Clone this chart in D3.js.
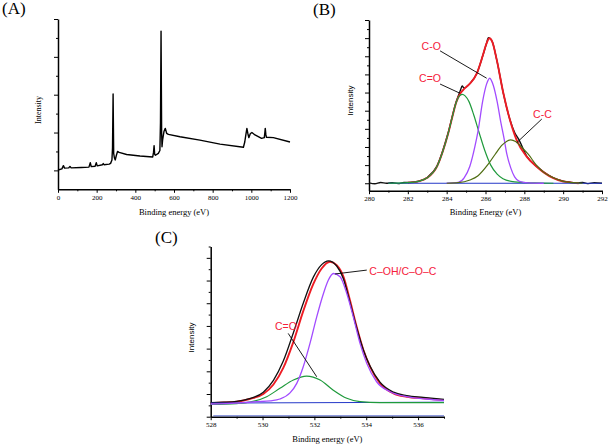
<!DOCTYPE html>
<html>
<head>
<meta charset="utf-8">
<script src="https://cdn.jsdelivr.net/npm/d3@7"></script>
<style>
  body { margin: 0; background: #fff; }
  svg { display: block; }
  .tick text { font-family: "Liberation Serif", serif; font-size: 7px; }
</style>
</head>
<body>
<svg id="chart" width="612" height="447"></svg>
<script>
// --- data: survey spectrum (A) ---
const surveyA = [
  [0, 1.02], [20, 1.08], [28, 1.25], [34, 1.12], [55, 1.13], [62, 1.21], [68, 1.13],
  [120, 1.15], [160, 1.17], [167, 1.41], [172, 1.2], [192, 1.22], [198, 1.41], [203, 1.24],
  [230, 1.3], [234, 1.36], [238, 1.3], [265, 1.33], [272, 1.37], [279, 1.55], [282, 2.2],
  [285, 5.04], [288, 1.9], [292, 1.65], [296, 1.55], [302, 1.8], [308, 2.0], [316, 1.95],
  [355, 1.84], [424, 1.76], [490, 1.71], [494, 1.95], [497, 2.31], [500, 1.85], [504, 1.8],
  [519, 1.9], [527, 2.05], [530, 3.5], [533, 8.36], [536, 3.0], [538, 2.25], [541, 2.6],
  [548, 3.05], [555, 3.22], [562, 2.96], [571, 2.9], [631, 2.78], [734, 2.6], [838, 2.39],
  [959, 2.22], [966, 2.5], [972, 2.9], [977, 3.22], [982, 2.95], [987, 2.73], [995, 2.95],
  [1003, 3.0], [1019, 2.87], [1053, 2.69], [1067, 2.73], [1070, 3.0], [1072, 3.22],
  [1075, 2.9], [1078, 2.75], [1114, 2.73], [1200, 2.5]
];

// --- data: C1s (B) ---
const rawB = [
  [280, 0.02], [280.3, -0.03], [280.6, 0.04], [280.9, 0.0], [281.2, 0.03], [281.5, -0.02],
  [281.8, 0.04], [282.1, 0.05], [282.5, 0.1], [283, 0.32], [283.5, 0.95], [284.08, 2.8],
  [284.49, 4.5], [284.7, 5.1], [284.8, 5.36], [284.9, 5.25], [285.2, 5.5], [285.55, 6.05],
  [285.85, 7.0], [286.05, 7.7], [286.15, 8.03], [286.35, 7.8], [286.58, 6.8], [286.92, 4.96],
  [287.26, 3.5], [287.5, 2.8], [287.7, 2.45], [288.12, 1.5], [288.64, 0.93], [289.0, 0.62],
  [289.5, 0.3], [290.0, 0.12], [290.35, 0.06], [290.7, 0.02], [291, 0.04], [291.3, -0.02],
  [291.6, 0.03], [292, 0.0]
];
const fitB = [
  [282.0, 0.03], [282.6, 0.12], [283.0, 0.3], [283.5, 0.92], [283.8, 1.75], [284.08, 2.75],
  [284.3, 3.7], [284.49, 4.45], [284.7, 4.95], [284.9, 5.2], [285.2, 5.5], [285.55, 6.05],
  [285.85, 7.0], [286.05, 7.7], [286.2, 7.99], [286.35, 7.8], [286.58, 6.8], [286.92, 4.96],
  [287.26, 3.49], [287.6, 2.39], [288.12, 1.47], [288.64, 0.91], [289.0, 0.6], [289.5, 0.28],
  [290.0, 0.1], [290.35, 0.05], [290.8, 0.0]
];
const coB = [  // C=O
  [281.0, 0.0], [282.0, 0.03], [282.6, 0.12], [283.0, 0.3], [283.5, 0.92], [283.8, 1.75],
  [284.08, 2.75], [284.3, 3.7], [284.49, 4.45], [284.65, 4.8], [284.8, 4.9], [284.95, 4.82],
  [285.15, 4.5], [285.4, 3.75], [285.67, 2.8], [285.95, 1.85], [286.27, 1.0], [286.6, 0.5],
  [286.9, 0.25], [287.5, 0.08], [288.5, 0.02], [289.5, 0.0]
];
const c_oB = [ // C-O
  [284.0, 0.0], [284.6, 0.05], [284.9, 0.3], [285.19, 0.92], [285.45, 2.0], [285.62, 2.9],
  [285.85, 4.5], [286.05, 5.45], [286.22, 5.79], [286.4, 5.4], [286.6, 4.5], [286.8, 3.3],
  [286.95, 2.5], [287.1, 1.6], [287.3, 0.85], [287.5, 0.35], [287.75, 0.1], [288.2, 0.02],
  [289, 0.0]
];
const ccB = [  // C-C
  [284.0, 0.0], [284.6, 0.03], [285.2, 0.18], [285.6, 0.4], [286.14, 1.05], [286.5, 1.6],
  [286.85, 2.1], [287.1, 2.32], [287.3, 2.39], [287.55, 2.3], [287.85, 2.0], [288.2, 1.6],
  [288.62, 1.0], [289.0, 0.6], [289.5, 0.3], [290.0, 0.1], [290.5, 0.03], [291, 0.0]
];
const baseB = [[281, 0], [292, 0]];

// --- data: O1s (C) ---
const rawC = [
  [528, 0.62], [528.5, 0.64], [529, 0.68], [529.5, 0.8], [530.03, 1.08], [530.42, 1.6],
  [530.8, 2.45], [531.19, 3.7], [531.57, 5.0], [531.96, 6.15], [532.28, 6.7], [532.54, 6.87],
  [532.86, 6.64], [533.12, 6.08], [533.37, 5.05], [533.63, 3.92], [533.89, 2.94], [534.15, 2.22],
  [534.53, 1.52], [535.05, 1.08], [535.56, 0.93], [536.2, 0.85], [537, 0.76]
];
const fitC = [
  [528, 0.6], [529, 0.66], [529.5, 0.78], [530.03, 1.0], [530.42, 1.42], [530.8, 2.15],
  [531.19, 3.3], [531.57, 4.65], [531.96, 5.85], [532.28, 6.53], [532.6, 6.83], [532.86, 6.68],
  [533.12, 6.17], [533.37, 5.14], [533.63, 3.96], [533.89, 2.94], [534.15, 2.2], [534.53, 1.47],
  [535.05, 1.03], [535.56, 0.88], [536.2, 0.81], [537, 0.73]
];
const cohC = [ // C-OH/C-O-C
  [528, 0.56], [529, 0.6], [529.77, 0.66], [530.3, 0.7], [530.67, 0.78], [531.06, 1.05],
  [531.32, 1.47], [531.57, 2.2], [531.83, 3.23], [532.09, 4.4], [532.35, 5.43], [532.54, 6.02],
  [532.73, 6.31], [532.99, 6.17], [533.25, 5.43], [533.5, 4.4], [533.76, 3.23], [534.02, 2.35],
  [534.4, 1.54], [534.92, 1.1], [535.56, 0.88], [536.3, 0.78], [537, 0.72]
];
const coC = [  // C=O
  [528, 0.54], [529, 0.58], [529.5, 0.64], [530.16, 0.88], [530.67, 1.25], [531.19, 1.62],
  [531.7, 1.79], [532.22, 1.62], [532.73, 1.17], [533.25, 0.81], [533.76, 0.66], [534.53, 0.62],
  [537, 0.62]
];
const baseC = [[528, 0.6], [537, 0.64]];

// tick labels
const ticksA = [0, 200, 400, 600, 800, 1000, 1200];
const ticksB = [280, 282, 284, 286, 288, 290, 292];
const ticksC = [528, 530, 532, 534, 536];

// annotations [label, textX, textY, fromX, fromY, toX, toY] in data units
const notesB = [
  ["C-O", 282.71, 7.34, 283.66, 7.30, 286.06, 5.79],
  ["C=O", 282.58, 5.58, 283.66, 5.47, 284.69, 4.96],
  ["C-C", 288.45, 3.6, 288.9, 3.54, 287.61, 2.24]
];
const notesC = [
  ["C\u2013OH/C\u2013O\u2013C", 534.12, 6.24, 534.02, 6.46, 532.8, 6.29],
  ["C=O", 530.48, 3.82, 530.99, 3.67, 532.09, 1.76]
];

const svg = d3.select("#chart");
const RED = "#ee1c24", NOTE = "#f5213b";

function panel(p) {
  const x = d3.scaleLinear().domain(p.xDomain).range(p.xRange);
  const y = d3.scaleLinear().domain(p.yDomain).range(p.yRange);
  const g = svg.append("g");

  // x axis: minor then major
  g.append("g").attr("transform", `translate(0,${p.yRange[0]})`)
    .call(d3.axisBottom(x).tickValues(p.xMinor).tickSize(2).tickFormat(""))
    .call(a => a.select(".domain").remove());
  g.append("g").attr("transform", `translate(0,${p.yRange[0]})`)
    .call(d3.axisBottom(x).tickValues(p.xTicks).tickSize(3.5).tickSizeOuter(0).tickPadding(2)
      .tickFormat(d3.format("d")))
    .call(a => a.select(".domain").attr("stroke-width", 1.5));

  // y axis: no labels
  g.append("g").attr("transform", `translate(${p.xRange[0]},0)`)
    .call(d3.axisLeft(y).tickValues(p.yMinor).tickSize(2).tickFormat(""))
    .call(a => a.select(".domain").remove());
  g.append("g").attr("transform", `translate(${p.xRange[0]},0)`)
    .call(d3.axisLeft(y).tickValues(p.yMajor).tickSize(4).tickSizeOuter(0).tickFormat(""))
    .call(a => a.select(".domain").attr("stroke-width", 1.5));

  g.append("text")
    .attr("x", d3.mean(p.xRange)).attr("y", p.xTitleY)
    .attr("text-anchor", "middle")
    .style("font-family", "Liberation Serif, serif").style("font-size", "8.5px")
    .text(p.xTitle);

  g.append("text")
    .attr("transform", `translate(${p.yTitleX},${p.yTitleY}) rotate(-90)`)
    .attr("text-anchor", "middle")
    .style("font-family", p.yFont).style("font-size", "8px")
    .text("Intensity");

  g.append("text")
    .attr("x", p.tagX).attr("y", p.tagY)
    .style("font-family", "Liberation Serif, serif").style("font-size", "17px")
    .text(p.tag);

  const line = d3.line().x(d => x(d[0])).y(d => y(d[1])).curve(p.curve || d3.curveLinear);
  p.series.forEach(s => {
    g.append("path").datum(s.data)
      .attr("fill", "none").attr("stroke", s.color).attr("stroke-width", s.width)
      .attr("stroke-linejoin", "round")
      .attr("d", line);
  });

  (p.notes || []).forEach(n => {
    g.append("line")
      .attr("x1", x(n[3])).attr("y1", y(n[4])).attr("x2", x(n[5])).attr("y2", y(n[6]))
      .attr("stroke", "#000").attr("stroke-width", 0.9);
    g.append("text")
      .attr("x", x(n[1])).attr("y", y(n[2]))
      .style("font-family", "Liberation Sans, Arial, sans-serif").style("font-size", "10.5px")
      .attr("fill", NOTE)
      .text(n[0]);
  });
  return { x, y, g };
}

// (A) survey
panel({
  xDomain: [0, 1200], xRange: [58, 290],
  yDomain: [0, 9], yRange: [189.3, 19],
  xTicks: ticksA, xMinor: d3.range(100, 1200, 200),
  yMajor: [1, 3, 5, 7, 9], yMinor: [2, 4, 6, 8],
  xTitle: "Binding energy (eV)", xTitleY: 215,
  yTitleX: 40.5, yTitleY: 110, yFont: "Liberation Serif, serif",
  tag: "(A)", tagX: 2, tagY: 14,
  series: [{ data: surveyA, color: "#000", width: 1.4 }]
});

// (B) C1s
panel({
  xDomain: [280, 292], xRange: [369, 602],
  yDomain: [-0.41, 9], yRange: [190.7, 20],
  xTicks: ticksB, xMinor: d3.range(281, 292, 2),
  yMajor: d3.range(0, 9.01, 1), yMinor: d3.range(0.5, 9, 1),
  xTitle: "Binding Energy (eV)", xTitleY: 215,
  yTitleX: 352.5, yTitleY: 100.5, yFont: "Liberation Sans, Arial, sans-serif",
  tag: "(B)", tagX: 313, tagY: 15,
  curve: d3.curveMonotoneX,
  series: [
    { data: rawB, color: "#111", width: 1.4 },
    { data: fitB, color: RED, width: 1.9 },
    { data: baseB, color: "#2438c8", width: 1 },
    { data: coB, color: "#1f9a3c", width: 1.2 },
    { data: c_oB, color: "#a24bff", width: 1.3 },
    { data: ccB, color: "#4f6d12", width: 1.2 }
  ],
  notes: notesB
});

// (C) O1s
const pc = panel({
  xDomain: [528, 537], xRange: [210.7, 444],
  yDomain: [0, 7.5], yRange: [416.7, 246.5],
  xTicks: ticksC, xMinor: d3.range(529, 537.5, 2),
  yMajor: d3.range(0, 7.6, 1), yMinor: d3.range(0.5, 7.6, 1),
  xTitle: "Binding energy (eV)", xTitleY: 442,
  yTitleX: 194, yTitleY: 337.5, yFont: "Liberation Sans, Arial, sans-serif",
  tag: "(C)", tagX: 155, tagY: 243,
  curve: d3.curveMonotoneX,
  series: [
    { data: fitC, color: RED, width: 1.9 },
    { data: rawC, color: "#111", width: 1.3 },
    { data: baseC, color: "#2438c8", width: 1 },
    { data: coC, color: "#1f9a3c", width: 1.2 },
    { data: cohC, color: "#a24bff", width: 1.3 }
  ],
  notes: notesC
});
// faint blue trace along the C x-axis
pc.g.append("line")
  .attr("x1", pc.x(528.1)).attr("x2", pc.x(537)).attr("y1", 415.8).attr("y2", 415.8)
  .attr("stroke", "#3348c0").attr("stroke-width", 0.8);
</script>
</body>
</html>
